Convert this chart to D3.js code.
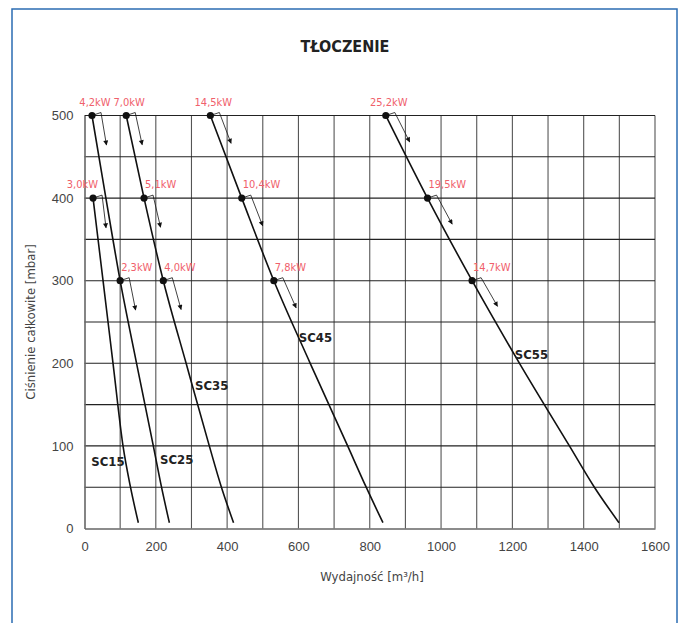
<!DOCTYPE html>
<html>
<head>
<meta charset="utf-8">
<script src="https://cdn.jsdelivr.net/npm/d3@7"></script>
<style>
  body { margin: 0; background: #fff; }
  svg { display: block; font-family: "DejaVu Sans Condensed", "Liberation Sans Narrow", "DejaVu Sans", sans-serif; font-stretch: condensed; }
</style>
</head>
<body>
<svg width="681" height="623"></svg>
<script>
// Chart values
const title = "TŁOCZENIE";
const xLabel = "Wydajność [m³/h]";
const yLabel = "Ciśnienie całkowite [mbar]";
const xTicks = [0, 200, 400, 600, 800, 1000, 1200, 1400, 1600];
const yTicks = [0, 100, 200, 300, 400, 500];

const models = ["SC15", "SC25", "SC35", "SC45", "SC55"];

// curve points [flow, pressure]
const curveSC15 = [[24, 400], [52, 300], [80, 200], [108, 100], [129, 50], [151, 7]];
const curveSC25 = [[21, 500], [60, 400], [100, 300], [146, 200], [193, 100], [216, 50], [238, 7]];
const curveSC35 = [[117, 500], [167, 400], [221, 300], [285, 200], [350, 100], [384, 50], [418, 7]];
const curveSC45 = [[353, 500], [441, 400], [531, 300], [633, 200], [738, 100], [790, 50], [837, 7]];
const curveSC55 = [[845, 500], [962, 400], [1087, 300], [1220, 200], [1360, 100], [1430, 50], [1499, 7]];
const curves = [curveSC15, curveSC25, curveSC35, curveSC45, curveSC55];

// motor power points: [model index, flow, pressure, label]
const powerPoints = [
  [0, 24, 400, "3,0kW"],
  [1, 21, 500, "4,2kW"],
  [1, 100, 300, "2,3kW"],
  [2, 117, 500, "7,0kW"],
  [2, 167, 400, "5,1kW"],
  [2, 221, 300, "4,0kW"],
  [3, 353, 500, "14,5kW"],
  [3, 441, 400, "10,4kW"],
  [3, 531, 300, "7,8kW"],
  [4, 845, 500, "25,2kW"],
  [4, 962, 400, "19,5kW"],
  [4, 1087, 300, "14,7kW"]
];

// where the model names sit [flow, pressure]
const modelLabelAt = [[19, 76], [212, 78], [310, 168], [601, 226], [1207, 205]];

const svg = d3.select("svg");

// blue frame
svg.append("rect")
    .attr("x", 12).attr("y", 9)
    .attr("width", 665).attr("height", 640)
    .attr("fill", "none")
    .attr("stroke", "#2b6cb3")
    .attr("stroke-width", 1.5);

svg.append("text")
    .attr("x", 345).attr("y", 52)
    .attr("text-anchor", "middle")
    .style("font-size", "16px")
    .style("font-weight", "bold")
    .style("fill", "#222")
    .text(title);

const x = d3.scaleLinear().domain([0, 1600]).range([84.5, 655]);
const y = d3.scaleLinear().domain([0, 500]).range([528.5, 115.5]);

// grid
const grid = svg.append("g");
grid.selectAll("line.v")
  .data(d3.range(100, 1601, 100)).enter()
  .append("line")
    .attr("x1", d => x(d)).attr("x2", d => x(d))
    .attr("y1", y(0)).attr("y2", y(500))
    .attr("stroke", "#555").attr("stroke-width", 1.1);
grid.selectAll("line.h")
  .data(d3.range(50, 501, 50)).enter()
  .append("line")
    .attr("x1", x(0)).attr("x2", x(1600))
    .attr("y1", d => y(d)).attr("y2", d => y(d))
    .attr("stroke", "#222").attr("stroke-width", 1.1);

// axes
const xAxis = svg.append("g")
    .attr("transform", "translate(0," + y(0) + ")")
    .call(d3.axisBottom(x).tickValues(xTicks).tickFormat(d3.format("d")).tickSize(0).tickPadding(13));
const yAxis = svg.append("g")
    .attr("transform", "translate(" + x(0) + ",0)")
    .call(d3.axisLeft(y).tickValues(yTicks).tickFormat(d3.format("d")).tickSize(0).tickPadding(11));
[xAxis, yAxis].forEach(a => {
  a.select(".domain").attr("stroke", "#666").attr("stroke-width", 1.6);
  a.selectAll("text").style("font-size", "13px").style("fill", "#444")
      .style("font-family", null);
});

svg.append("text")
    .attr("x", 372).attr("y", 581)
    .attr("text-anchor", "middle")
    .style("font-size", "13px").style("fill", "#444")
    .text(xLabel);
svg.append("text")
    .attr("transform", "translate(35,322)rotate(-90)")
    .attr("text-anchor", "middle")
    .style("font-size", "13px").style("fill", "#444")
    .text(yLabel);

// curves
const line = d3.line()
    .x(d => x(d[0]))
    .y(d => y(d[1]))
    .curve(d3.curveMonotoneX);

svg.selectAll("path.curve")
  .data(curves).enter()
  .append("path")
    .attr("class", "curve")
    .attr("fill", "none")
    .attr("stroke", "#111")
    .attr("stroke-width", 1.6)
    .attr("d", line);

svg.selectAll("text.model")
  .data(models).enter()
  .append("text")
    .attr("x", (d, i) => x(modelLabelAt[i][0]))
    .attr("y", (d, i) => y(modelLabelAt[i][1]))
    .style("font-size", "13px")
    .style("font-weight", "bold")
    .style("fill", "#222")
    .text(d => d);

// arrowhead
svg.append("defs").append("marker")
    .attr("id", "arrow")
    .attr("viewBox", "0 0 10 10")
    .attr("refX", 9).attr("refY", 5)
    .attr("markerWidth", 10).attr("markerHeight", 5)
    .attr("markerUnits", "userSpaceOnUse")
    .attr("orient", "auto")
  .append("path")
    .attr("d", "M0,0L10,5L0,10Z")
    .attr("fill", "#111");

function arrowPath(p) {
  const c = curves[p[0]];
  const k = c.findIndex(q => q[1] === p[2]);
  const nx = x(c[k + 1][0]) - x(p[1]);
  const ny = y(c[k + 1][1]) - y(p[2]);
  const len = Math.hypot(nx, ny);
  const cx = x(p[1]) + 9, cy = y(p[2]) - 3;
  return "M" + x(p[1]) + "," + y(p[2]) + "L" + cx + "," + cy +
         "L" + (cx + 33 * nx / len) + "," + (cy + 33 * ny / len);
}

const pw = svg.selectAll("g.power")
  .data(powerPoints).enter()
  .append("g").attr("class", "power");

pw.append("path")
    .attr("fill", "none")
    .attr("stroke", "#111")
    .attr("stroke-width", 0.8)
    .attr("marker-end", "url(#arrow)")
    .attr("d", arrowPath);

pw.append("circle")
    .attr("cx", d => x(d[1]))
    .attr("cy", d => y(d[2]))
    .attr("r", 3.6)
    .attr("fill", "#111");

pw.append("text")
    .attr("x", d => x(d[1]) + (d[2] === 500 ? 3 : d[0] === 0 ? 5 : 1))
    .attr("y", d => y(d[2]) - 10)
    .attr("text-anchor", d => d[2] === 500 ? "middle" : d[0] === 0 ? "end" : "start")
    .style("font-size", "11px")
    .style("fill", "#f0606b")
    .text(d => d[3]);
</script>
</body>
</html>
